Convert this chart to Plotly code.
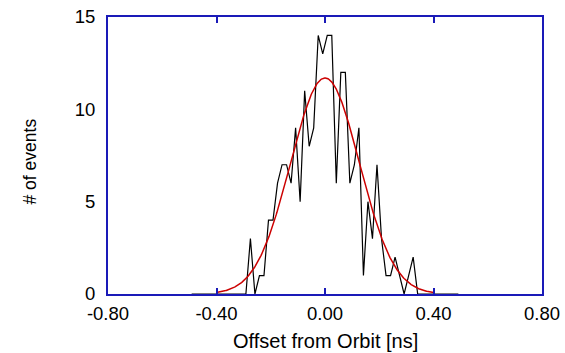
import plotly.graph_objects as go
import numpy as np

# Histogram: 60 bins of width 1/60 ns spanning -0.5 .. 0.5 ns
bin_width = 1.0 / 60.0
bin_lo = -0.5
counts = [0] * 12 + [
    0, 3, 0, 1, 1, 4, 4, 6, 7, 7, 6, 9, 5, 11, 8, 9,
    14, 13, 14, 14, 6, 12, 12, 6, 7, 9, 1, 5, 3, 7, 3, 1,
    1, 2, 1, 0, 1, 2, 0,
] + [0] * 9
centers = [bin_lo + (i + 0.5) * bin_width for i in range(len(counts))]

# Gaussian fit parameters
fit_amp = 11.7
fit_mean = 0.0
fit_sigma = 0.127
fit_x = np.linspace(-0.4, 0.4, 400)
fit_y = fit_amp * np.exp(-0.5 * ((fit_x - fit_mean) / fit_sigma) ** 2)

x_ticks = [-0.8, -0.4, 0.0, 0.4, 0.8]
x_ticktext = ["-0.80", "-0.40", "0.00", "0.40", "0.80"]
y_ticks = [0, 5, 10, 15]
y_ticktext = ["0", "5", "10", "15"]
x_title = "Offset from Orbit [ns]"
y_title = "# of events"

fig = go.Figure()
fig.add_trace(go.Scatter(x=centers, y=counts, mode="lines",
                         line=dict(color="black", width=1.2), showlegend=False))
fig.add_trace(go.Scatter(x=fit_x, y=fit_y, mode="lines",
                         line=dict(color="#cc0000", width=1.5), showlegend=False))

axis_color = "#1a1ab8"
font = dict(family="Liberation Sans, Arial, sans-serif", size=18.5, color="black")

fig.update_layout(
    width=565, height=353, autosize=False,
    margin=dict(l=108, r=23, t=17, b=59, autoexpand=False),
    paper_bgcolor="white", plot_bgcolor="white",
    font=font,
    xaxis=dict(range=[-0.8, 0.8], tickvals=x_ticks, ticktext=x_ticktext,
               ticks="inside", ticklen=6, tickwidth=2, tickcolor=axis_color,
               showline=True, linecolor=axis_color, linewidth=2, mirror="ticks",
               showgrid=False, zeroline=False, automargin=False,
               ticklabelstandoff=2, tickfont=dict(size=18.5)),
    yaxis=dict(range=[0, 15], tickvals=y_ticks, ticktext=y_ticktext,
               ticks="",
               showline=True, linecolor=axis_color, linewidth=2, mirror=True,
               showgrid=False, zeroline=False, automargin=False,
               ticklabelstandoff=7, tickfont=dict(size=18.5)),
    annotations=[
        dict(text=x_title, xref="paper", yref="paper", x=0.5, y=-0.17,
             xanchor="center", yanchor="middle", showarrow=False,
             font=dict(size=20)),
        dict(text=y_title, xref="paper", yref="paper", x=-0.18, y=0.478,
             xanchor="center", yanchor="middle", textangle=-90, showarrow=False,
             font=dict(size=17.5)),
    ],
)

fig.write_html("out.html")
